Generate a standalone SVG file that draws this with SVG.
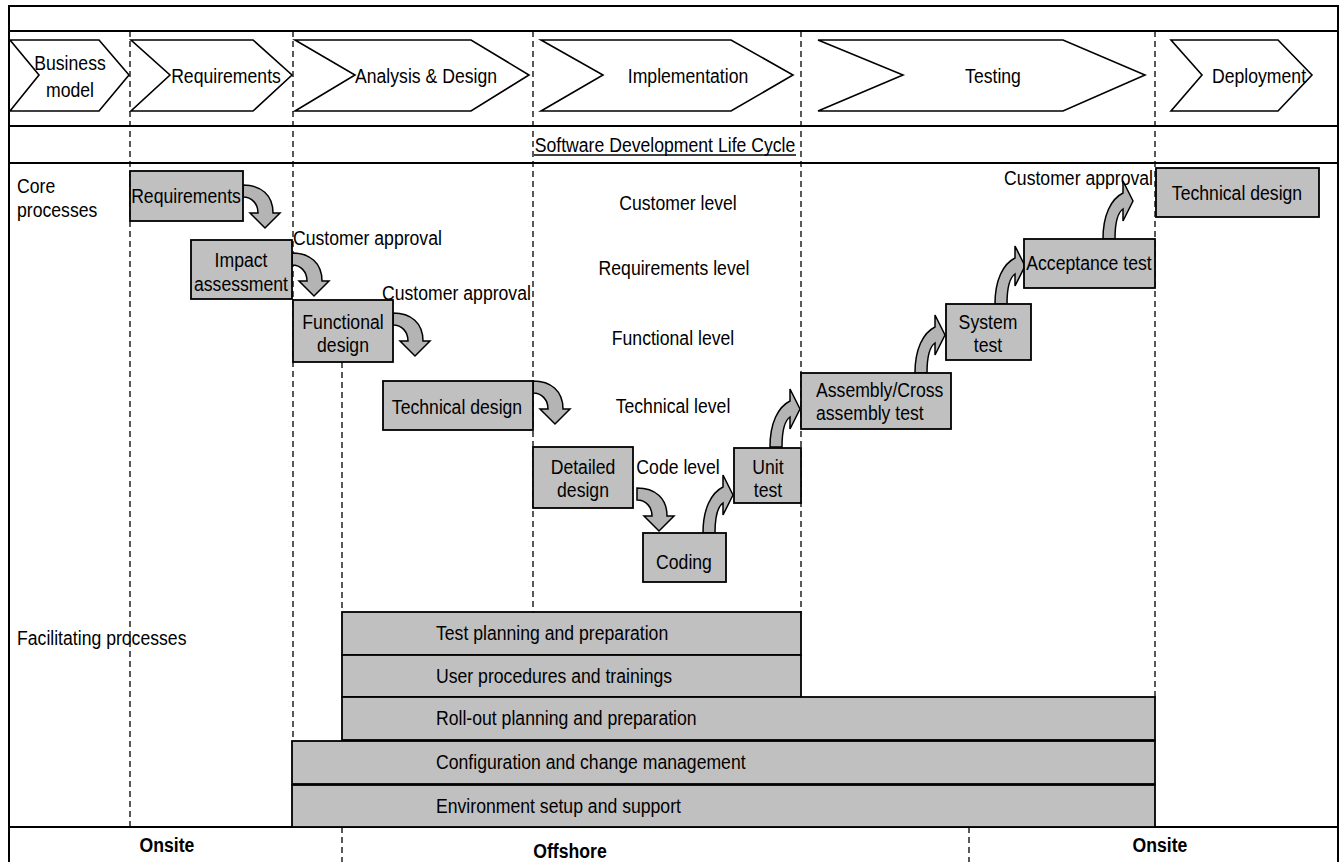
<svg xmlns="http://www.w3.org/2000/svg" width="1344" height="862" viewBox="0 0 1344 862">
<style>
text{font-family:"Liberation Sans",Arial,sans-serif;font-size:21px;fill:#000}
.c{text-anchor:middle}
.e{text-anchor:end}
.b{font-weight:bold}
.frame{stroke:#000;stroke-width:2;fill:none}
.dash{stroke:#000;stroke-width:1.3;stroke-dasharray:6,4;fill:none}
.chev{fill:#fff;stroke:#000;stroke-width:1.6}
.box{fill:#c0c0c0;stroke:#000;stroke-width:1.8}
.arr{fill:#b4b4b4;stroke:#000;stroke-width:1.5;stroke-linejoin:miter}
</style>
<defs>
<path id="dn" d="M0,0 C18,0 30,10 30,28 L37,28 L22,43 L7,28 L15,28 C15,19 9,12 0,12 Z"/>
<path id="up" d="M0,0 C0,-24 8,-40 20,-46 L20,-58 L30,-38 L20,-18 L20,-30 C14,-26 12,-16 12,0 Z"/>
</defs>
<rect width="1344" height="862" fill="#fff"/>
<g id="frame">
<path class="frame" d="M9,862 V6 H1338 V862"/>
<line class="frame" x1="9" y1="31" x2="1338" y2="31"/>
<line class="frame" x1="9" y1="126" x2="1338" y2="126"/>
<line class="frame" x1="9" y1="163" x2="1338" y2="163"/>
<line class="frame" x1="9" y1="827" x2="1338" y2="827"/>
</g>
<g id="dashes">
<line class="dash" x1="130" y1="31" x2="130" y2="827"/>
<line class="dash" x1="293" y1="31" x2="293" y2="741"/>
<line class="dash" x1="533" y1="31" x2="533" y2="612"/>
<line class="dash" x1="801" y1="31" x2="801" y2="612"/>
<line class="dash" x1="1155" y1="31" x2="1155" y2="697"/>
<line class="dash" x1="342" y1="362" x2="342" y2="612"/>
<line class="dash" x1="342" y1="827" x2="342" y2="862"/>
<line class="dash" x1="969" y1="827" x2="969" y2="862"/>
</g>
<g id="phases">
<g id="ph-business"><path class="chev" d="M10,40 L99,40 L129,75 L99,111 L10,111 L39,75 Z"/><text class="c" transform="translate(70,70) scale(0.84,1)">Business</text><text class="c" transform="translate(70,97) scale(0.84,1)">model</text></g>
<g id="ph-requirements"><path class="chev" d="M131,40 L253,40 L292,75 L253,111 L131,111 L170,75 Z"/><text class="c" transform="translate(226,83) scale(0.84,1)">Requirements</text></g>
<g id="ph-analysis"><path class="chev" d="M295,40 L471,40 L529,75 L471,111 L295,111 L355,75 Z"/><text class="c" transform="translate(426,83) scale(0.84,1)">Analysis &amp; Design</text></g>
<g id="ph-implementation"><path class="chev" d="M541,40 L731,40 L793,75 L731,111 L541,111 L603,75 Z"/><text class="c" transform="translate(688,83) scale(0.84,1)">Implementation</text></g>
<g id="ph-testing"><path class="chev" d="M818,40 L1063,40 L1145,75 L1063,111 L818,111 L903,75 Z"/><text class="c" transform="translate(993,83) scale(0.84,1)">Testing</text></g>
<g id="ph-deployment"><path class="chev" d="M1171,40 L1278,40 L1312,75 L1278,111 L1171,111 L1202,75 Z"/><text class="c" transform="translate(1259,83) scale(0.84,1)">Deployment</text></g>
</g>
<g id="title"><text class="c" transform="translate(665,152) scale(0.84,1)">Software Development Life Cycle</text><line x1="534" y1="155" x2="796" y2="155" stroke="#000" stroke-width="1.3"/></g>
<g id="labels">
<text transform="translate(17,193) scale(0.84,1)">Core</text>
<text transform="translate(17,217) scale(0.84,1)">processes</text>
<text transform="translate(17,645) scale(0.84,1)">Facilitating processes</text>
<text class="c" transform="translate(678,210) scale(0.84,1)">Customer level</text>
<text class="c" transform="translate(674,275) scale(0.84,1)">Requirements level</text>
<text class="c" transform="translate(673,345) scale(0.84,1)">Functional level</text>
<text class="c" transform="translate(673,413) scale(0.84,1)">Technical level</text>
<text class="c" transform="translate(678,474) scale(0.84,1)">Code level</text>
<text transform="translate(293,245) scale(0.84,1)">Customer approval</text>
<text transform="translate(382,300) scale(0.84,1)">Customer approval</text>
<text class="e" transform="translate(1153,185) scale(0.84,1)">Customer approval</text>
</g>
<g id="connectors">
<use href="#dn" class="arr" transform="translate(243,185)"/>
<use href="#dn" class="arr" transform="translate(292,253)"/>
<use href="#dn" class="arr" transform="translate(393,313)"/>
<use href="#dn" class="arr" transform="translate(533,381)"/>
<use href="#dn" class="arr" transform="translate(637,488)"/>
<use href="#up" class="arr" transform="translate(703,533)"/>
<use href="#up" class="arr" transform="translate(770,447)"/>
<use href="#up" class="arr" transform="translate(915,373)"/>
<use href="#up" class="arr" transform="translate(995,304)"/>
<use href="#up" class="arr" transform="translate(1103,239)"/>
</g>
<g id="n-requirements"><rect class="box" x="130" y="171" width="113" height="50"/><text class="c" transform="translate(186,203) scale(0.84,1)">Requirements</text></g>
<g id="n-impact"><rect class="box" x="191" y="240" width="101" height="59"/><text class="c" transform="translate(241,267) scale(0.84,1)">Impact</text><text class="c" transform="translate(241,291) scale(0.84,1)">assessment</text></g>
<g id="n-functional"><rect class="box" x="293" y="300" width="100" height="62"/><text class="c" transform="translate(343,329) scale(0.84,1)">Functional</text><text class="c" transform="translate(343,352) scale(0.84,1)">design</text></g>
<g id="n-techdesign1"><rect class="box" x="383" y="381" width="150" height="49"/><text class="c" transform="translate(457,414) scale(0.84,1)">Technical design</text></g>
<g id="n-detailed"><rect class="box" x="533" y="447" width="100" height="61"/><text class="c" transform="translate(583,474) scale(0.84,1)">Detailed</text><text class="c" transform="translate(583,497) scale(0.84,1)">design</text></g>
<g id="n-coding"><rect class="box" x="643" y="533" width="83" height="49"/><text class="c" transform="translate(684,569) scale(0.84,1)">Coding</text></g>
<g id="n-unittest"><rect class="box" x="734" y="448" width="67" height="55"/><text class="c" transform="translate(768,474) scale(0.84,1)">Unit</text><text class="c" transform="translate(768,497) scale(0.84,1)">test</text></g>
<g id="n-assembly"><rect class="box" x="801" y="373" width="150" height="56"/><text transform="translate(816,397) scale(0.84,1)">Assembly/Cross</text><text transform="translate(816,420) scale(0.84,1)">assembly test</text></g>
<g id="n-system"><rect class="box" x="946" y="304" width="85" height="56"/><text class="c" transform="translate(988,329) scale(0.84,1)">System</text><text class="c" transform="translate(988,352) scale(0.84,1)">test</text></g>
<g id="n-acceptance"><rect class="box" x="1024" y="239" width="131" height="49"/><text class="c" transform="translate(1089,270) scale(0.84,1)">Acceptance test</text></g>
<g id="n-techdesign2"><rect class="box" x="1156" y="168" width="163" height="49"/><text class="c" transform="translate(1237,200) scale(0.84,1)">Technical design</text></g>
<g id="facilitating">
<g id="f-test"><rect class="box" x="342" y="612" width="459" height="43"/><text transform="translate(436,640) scale(0.84,1)">Test planning and preparation</text></g>
<g id="f-user"><rect class="box" x="342" y="655" width="459" height="42"/><text transform="translate(436,683) scale(0.84,1)">User procedures and trainings</text></g>
<g id="f-rollout"><rect class="box" x="342" y="697" width="813" height="43"/><text transform="translate(436,725) scale(0.84,1)">Roll-out planning and preparation</text></g>
<g id="f-config"><rect class="box" x="292" y="741" width="863" height="43"/><text transform="translate(436,769) scale(0.84,1)">Configuration and change management</text></g>
<g id="f-env"><rect class="box" x="292" y="785" width="863" height="42"/><text transform="translate(436,813) scale(0.84,1)">Environment setup and support</text></g>
</g>
<g id="locations">
<text class="c b" transform="translate(167,852) scale(0.84,1)">Onsite</text>
<text class="c b" transform="translate(570,858) scale(0.84,1)">Offshore</text>
<text class="c b" transform="translate(1160,852) scale(0.84,1)">Onsite</text>
</g>
</svg>
